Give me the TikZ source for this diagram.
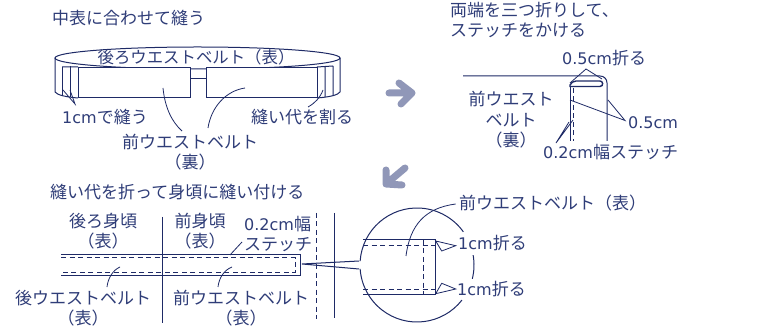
\documentclass[tikz,border=0pt]{standalone}
\usepackage{fontspec}
\setmainfont{Noto Sans CJK JP}
\newfontfamily\latfont{DejaVu Sans}
\newcommand{\lat}[1]{{\latfont\fontsize{16}{20}\selectfont #1}}
\definecolor{ink}{HTML}{1E2A66}
\definecolor{txt}{HTML}{2F3D78}
\definecolor{arrowc}{HTML}{9097B8}
\tikzset{
  ln/.style={draw=ink,line width=1pt},
  thin ln/.style={draw=ink,line width=0.8pt},
  dsh/.style={draw=ink,line width=1pt,dash pattern=on 5pt off 3.5pt},
  lbl/.style={text=txt,inner sep=0pt,align=center,font=\fontsize{17}{20.5}\selectfont},
  bigarrow/.style={draw=arrowc,line width=7pt,line cap=round,line join=round}
}
\begin{document}
\begin{tikzpicture}[x=1pt,y=-1pt]
\useasboundingbox (0,0) rectangle (775,328);
\fill[white] (0,0) rectangle (775,328);
% belt, panel 1
\draw[ln,fill=white] (197.5,58) ellipse [x radius=142.5,y radius=11];
\draw[ln] (55,58) -- (55,92) .. controls (57,95) and (66,97) .. (78,98);
\draw[ln] (340,58) -- (340,92) .. controls (338,95) and (330,97) .. (317,98);
\draw[ln] (62,67) -- (62,95) (70,66) -- (70,97);
\draw[ln] (333,66) -- (333,96) (325,67) -- (325,97) (317,67) -- (333,66) (62,67) -- (78,67);
\draw[ln,fill=white] (78,68) rectangle (190,98);
\draw[ln,fill=white] (206,68) rectangle (317,98);
\draw[ln] (190,79) -- (206,79);
\draw[thin ln] (63,90) -- (75,104) -- (70,90);
\draw[thin ln] (323,90) .. controls (320,98) and (315,103) .. (308,107);
\draw[thin ln] (163,88) .. controls (165,108) and (172,122) .. (182,131);
\draw[thin ln] (245,88) .. controls (225,91) and (211,108) .. (208,128);
\node[lbl,anchor=west] (t1) at (52,18) {中表に合わせて縫う};
\node[lbl,font=\fontsize{16.4}{20.5}\selectfont] (back) at (196,57) {後ろウエストベルト（表）};
\node[lbl,anchor=west] (sew) at (62,117) {\lat{1cm}で縫う};
\node[lbl,anchor=west] (split) at (251,117) {縫い代を割る};
\node[lbl] (front) at (190,152) {前ウエストベルト\\（裏）};
% arrows
\draw[bigarrow] (389,93) -- (412,93) (399,83) -- (412,93) -- (401,104);
\draw[bigarrow] (405,168) -- (386,184) (386,170) -- (386,184) -- (402,185);
% panel 2
\node[lbl,anchor=north west,align=left] (t2) at (450,2) {両端を三つ折りして、\\ステッチをかける};
\node[lbl,anchor=west] (fold) at (562,58) {\lat{0.5cm}折る};
\node[lbl] (fr2) at (511,120) {前ウエスト\\ベルト\\（裏）};
\node[lbl,anchor=west] (half) at (628,122.5) {\lat{0.5cm}};
\node[lbl,anchor=west] (st) at (543,152) {\lat{0.2cm}幅ステッチ};
\draw[ln] (463,76) -- (600,76) .. controls (604,76) and (607,79) .. (607,83) -- (607,141);
\draw[ln] (570,141) -- (570,86);
\draw[ln,fill=white,line width=1.4pt] (570,85) .. controls (571,83) and (573,81) .. (576,81) -- (600,81) .. controls (603,81) and (604,86) .. (600,86.5) -- (570,86.5) -- cycle;
\draw[dsh] (573,88) -- (573,141);
\draw[thin ln] (570,83) -- (586,69) -- (602,79);
\draw[thin ln] (570,100) -- (625,120.5) -- (608,100);
\draw[thin ln] (569,122) -- (556,143) -- (573,120);
% panel 3
\node[lbl,anchor=west] (t3) at (50,192) {縫い代を折って身頃に縫い付ける};
\node[lbl] (b1) at (103,231) {後ろ身頃\\（表）};
\node[lbl] (f1) at (200,231) {前身頃\\（表）};
\node[lbl,anchor=west,align=left] (st2) at (244,234) {\lat{0.2cm}幅\\ステッチ};
\node[lbl] (b2) at (83,308) {後ウエストベルト\\（表）};
\node[lbl] (f2) at (241,308) {前ウエストベルト\\（表）};
\draw[ln] (162,217) -- (162,323);
\draw[ln] (61,255) -- (300,255) -- (300,275) -- (61,275);
\draw[dsh] (61,258) -- (295,258) -- (295,272.5) -- (61,272.5);
\draw[dsh] (316,213) -- (316,319);
\draw[ln] (334,213) -- (334,318);
\draw[thin ln] (230,255) -- (242,242);
\draw[thin ln] (107,287) .. controls (108,278) and (113,270) .. (120,267);
\draw[thin ln] (218,287) .. controls (219,278) and (224,270) .. (232,267);
% magnifier
\coordinate (c) at (417,265);
\draw[ln] (c) ++(176:57 and -57) arc [start angle=-176,end angle=-35.6,radius=57];
\draw[ln] (c) ++(-10:57) arc [start angle=-10,end angle=14,radius=57];
\draw[ln] (c) ++(38:57) arc [start angle=38,end angle=176,radius=57];
\draw[ln] (359,261) -- (302,264) -- (359,269);
\draw[ln] (363,240) -- (435.7,240) -- (435.7,294.3) -- (363,294.3);
\draw[dsh] (363,245.7) -- (435.7,245.7) (363,289) -- (435.7,289) (423,240) -- (423,294);
\draw[thin ln] (435.7,241) -- (455.7,245.7) -- (441.7,251) -- cycle;
\draw[thin ln] (441.7,283.3) -- (455.7,289) -- (435.7,293.7) -- cycle;
\draw[thin ln] (406,256) .. controls (410,225) and (425,208) .. (455.7,204);
\node[lbl,anchor=west] (f3) at (459,203) {前ウエストベルト（表）};
\node[lbl,anchor=west] (c1) at (458,243) {\lat{1cm}折る};
\node[lbl,anchor=west] (c2) at (457,289) {\lat{1cm}折る};
\end{tikzpicture}
\end{document}
